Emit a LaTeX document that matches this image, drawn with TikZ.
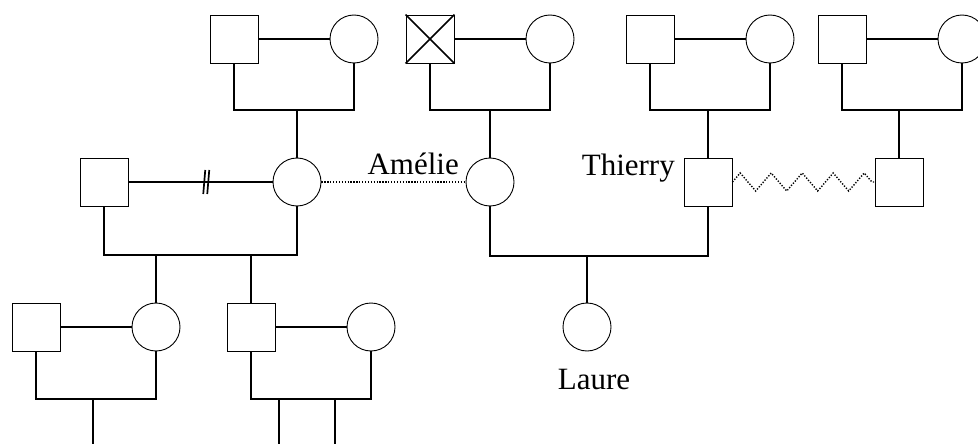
\documentclass[tikz,border=0pt]{standalone}
\usepackage{fontspec}
\setmainfont{Liberation Serif}
\usepackage{tikz}
\usetikzlibrary{shapes,arrows}
\usetikzlibrary{decorations.pathmorphing}

\begin{document}
\begin{tikzpicture}[x=1pt,y=-1pt,
		male/.style={draw,rectangle,minimum size=48pt,inner sep=0pt,line width=0.9pt},
		female/.style={draw,circle,minimum size=48pt,inner sep=0pt,line width=0.9pt},
		rel/.style={line width=1.7pt},
		dots/.style={line width=1.4pt,dash pattern=on 1.3pt off 1.6pt},
		lbl/.style={inner sep=0pt,font=\fontsize{31}{36}\selectfont}]
		\useasboundingbox (0,0) rectangle (978,444);
		\foreach \n / \x / \y / \s in {1/234/39/110,2/430/39/110,3/650/39/110,4/842/39/110,8/36/327/399,9/251/327/399} { \node[male] (m\n) at (\x,\y) {}; \node[female] (f\n) at (\x+120,\y) {}; \draw[rel] (m\n) -- (f\n); \draw[rel] (m\n.south) -- (m\n.south |- 0,\s) -| (f\n.south);}
		\draw[rel] (m2.north west) -- (m2.south east) (m2.north east) -- (m2.south west);
		\node[male] (m5) at (104,182) {};
		\node[female] (f5) at (297,182) {};
		\node[female] (f6) at (490,182) {};
		\node[male] (m6) at (708,182) {};
		\node[male] (m7) at (899,182) {};
		\node[female] (f7) at (587,327) {};
		\draw[rel] (m5) -- (f5) coordinate[pos=0.54] (div);
		\draw[rel] (div) ++(-1,-12) -- ++(-2,24) (div) ++(3,-12) -- ++(-2,24);
		\draw[dots] (f5) -- (f6);
		\draw[dots,decorate,decoration={zigzag,segment length=31pt,amplitude=9pt}] (m6) -- (m7);
		\foreach \c in {f5,f6,m6,m7} { \draw[rel] (\c.north) -- (\c.north |- 0,110);}
		\draw[rel] (m5.south) -- (m5.south |- 0,255) -| (f5.south);
		\draw[rel] (f6.south) -- (f6.south |- 0,256) -| (m6.south);
		\foreach \c / \s in {f8/255,m9/255,f7/256} { \draw[rel] (\c.north) -- (\c.north |- 0,\s);}
		\foreach \x / \k in {93/1,279/2,335/3} { \coordinate (kid\k) at (\x,444); \draw[rel] (kid\k) -- (kid\k |- 0,399);}
		\node[lbl,anchor=base east] (amelie) at (459,174) {Amélie};
		\node[lbl,anchor=base east] (thierry) at (675,175) {Thierry};
		\node[lbl,anchor=base] (laure) at (594,389) {Laure};
	\end{tikzpicture}
\end{document}
